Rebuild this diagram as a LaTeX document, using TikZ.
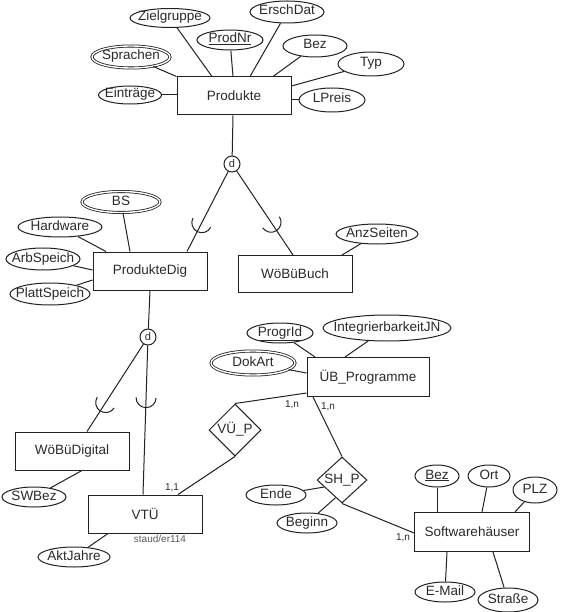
\documentclass[tikz,border=0pt]{standalone}
\usepackage{fontspec}
\setmainfont{Liberation Sans}
\usetikzlibrary{shapes.geometric,decorations.markings,calc}
\definecolor{ink}{HTML}{222222}
\definecolor{txt}{HTML}{2A2A2A}
\newcommand{\mb}[1]{\makebox[0pt][c]{#1}}
\newcommand{\ul}[1]{\underline{#1}}
\begin{document}
\begin{tikzpicture}[x=1pt,y=-1pt,
  every node/.style={text=txt},
  font=\fontsize{13.5}{15}\selectfont,
  every path/.style={draw=ink,line width=1pt},
  entity/.style={draw=ink,rectangle,inner sep=0pt,minimum width=#1,minimum height=38pt},
  entity/.default=114pt,
  attr/.style 2 args={draw=ink,ellipse,inner sep=0pt,text height=9pt,text depth=3pt,minimum width=#1,minimum height=#2},
  mattr/.style 2 args={attr={#1}{#2},double=white,double distance=1.4pt,line width=0.8pt},
  rel/.style 2 args={draw=ink,diamond,inner sep=0pt,text height=9pt,text depth=3pt,minimum width=#1,minimum height=#2},
  dcirc/.style={draw=ink,circle,inner sep=0pt,minimum size=16pt,font=\fontsize{11}{12}\selectfont},
  small/.style={font=\fontsize{10}{11}\selectfont,text=txt,inner sep=0pt},
  subarc/.style={postaction={decorate},decoration={markings,mark=at position #1 with {\draw[line width=1pt] (0pt,10pt) arc[start angle=90,end angle=-90,radius=10pt];}}}
]
\useasboundingbox[fill=white,draw=none] (0,0) rectangle (560,612);
% entities
\node[entity] (prod) at (234,96) {Produkte};
\node[entity] (pdig) at (150,271) {ProdukteDig};
\node[entity,minimum height=37pt] (wbuch) at (295,274) {WöBüBuch};
\node[entity] (wdig) at (72,451) {WöBüDigital};
\node[entity] (vtu) at (145,514) {VTÜ};
\node[entity=122pt,minimum height=39pt] (ubp) at (368,377) {ÜB\_Programme};
\node[entity=115pt,minimum height=39pt] (sw) at (472,532) {Softwarehäuser};
% attributes
\node[attr={80pt}{19pt}] (zg) at (170,18) {\mb{Zielgruppe}};
\node[attr={66pt}{20pt}] (pnr) at (230,40) {\mb{\ul{ProdNr}}};
\node[attr={74pt}{22pt}] (ed) at (287,12) {\mb{ErschDat}};
\node[attr={64pt}{22pt}] (bez) at (315,46) {\mb{Bez}};
\node[attr={66pt}{24pt}] (typ) at (371,64) {\mb{Typ}};
\node[mattr={78pt}{22pt}] (spr) at (131,57) {\mb{Sprachen}};
\node[attr={63pt}{18pt}] (ein) at (130,95) {\mb{Einträge}};
\node[attr={66pt}{24pt}] (lp) at (332,100) {\mb{LPreis}};
\node[mattr={78pt}{21pt}] (bs) at (121,202) {\mb{BS}};
\node[attr={84pt}{20pt}] (hw) at (60,227) {\mb{Hardware}};
\node[attr={74pt}{22pt}] (arb) at (43,259) {\mb{ArbSpeich}};
\node[attr={80pt}{22pt}] (pla) at (50,294) {\mb{PlattSpeich}};
\node[attr={82pt}{20pt}] (anz) at (377,234) {\mb{AnzSeiten}};
\node[attr={64pt}{20pt}] (swb) at (34,497) {\mb{SWBez}};
\node[attr={72pt}{20pt}] (akt) at (74,557) {\mb{AktJahre}};
\node[attr={66pt}{20pt}] (pid) at (280,333) {\mb{\ul{ProgrId}}};
\node[attr={128pt}{26pt}] (int) at (387,328) {\mb{IntegrierbarkeitJN}};
\node[mattr={84pt}{24pt}] (dok) at (253,363) {\mb{DokArt}};
\node[attr={60pt}{20pt}] (ende) at (276,495) {\mb{Ende}};
\node[attr={60pt}{20pt}] (beg) at (307,523) {\mb{Beginn}};
\node[attr={44pt}{22pt}] (sbez) at (437,476) {\mb{\ul{Bez}}};
\node[attr={42pt}{22pt}] (ort) at (489,476) {\mb{Ort}};
\node[attr={44pt}{26pt}] (plz) at (535,490) {\mb{PLZ}};
\node[attr={60pt}{20pt}] (mail) at (445,592) {\mb{E-Mail}};
\node[attr={60pt}{24pt}] (str) at (508,600) {\mb{Straße}};
% relationships and disjointness circles
\node[rel={52pt}{52pt}] (vup) at (235,430) {\mb{VÜ\_P}};
\node[rel={50pt}{46pt}] (shp) at (342,480) {\mb{SH\_P}};
\node[dcirc] (d1) at (232,164) {d};
\node[dcirc] (d2) at (148,337) {d};
% Produkte attributes
\draw (zg) -- (212,0 |- prod.north);
\draw (pnr) -- (233,0 |- prod.north);
\draw (ed) -- (250,0 |- prod.north);
\draw (bez) -- (273,0 |- prod.north);
\draw (typ) -- (prod.east |- 0,86);
\draw (lp) -- (prod.east |- lp);
\draw (ein) -- (prod.west |- ein);
\draw (spr) -- (prod.north west);
% specialization 1
\draw (233,0 |- prod.south) -- (d1);
\draw[subarc=0.64] (d1) -- (187,0 |- pdig.north);
\draw[subarc=0.61] (d1) -- (293,0 |- wbuch.north);
% ProdukteDig attributes
\draw (bs) -- (130,0 |- pdig.north);
\draw (hw) -- (106,0 |- pdig.north);
\draw (arb) -- (pdig.west |- 0,270);
\draw (pla) -- (pdig.west |- 0,280);
\draw (anz) -- (342,0 |- wbuch.north);
% specialization 2
\draw (150,0 |- pdig.south) -- (d2);
\draw[subarc=0.67] (d2) -- (87,0 |- wdig.north);
\draw[subarc=0.35] (d2) -- (143,0 |- vtu.north);
\draw (swb) -- (82,0 |- wdig.south);
\draw (akt) -- (108,0 |- vtu.south);
% VÜ_P
\draw (vup.north) -- (ubp.west |- 0,393);
\draw (vup.south) -- (178,0 |- vtu.north);
\node[small] (c1) at (292,405) {1,n};
\node[small] (c2) at (172,488) {1,1};
% ÜB_Programme attributes
\draw (pid) -- (315,0 |- ubp.north);
\draw (int) -- (345,0 |- ubp.north);
\draw (dok) -- (ubp.west |- 0,373);
% SH_P
\draw (shp.north) -- (313,0 |- ubp.south);
\node[small] (c3) at (328,407) {1,n};
\draw (shp.south) -- (sw.west |- 0,533);
\node[small] (c4) at (403,538) {1,n};
\draw (ende) -- ($(shp.west)!0.3!(shp.south)$);
\draw (beg) -- ($(shp.south)!0.25!(shp.west)$);
% Softwarehäuser attributes
\draw (sbez) -- (437,0 |- sw.north);
\draw (ort) -- (482,0 |- sw.north);
\draw (plz) -- (515,0 |- sw.north);
\draw (mail) -- (447,0 |- sw.south);
\draw (str) -- (493,0 |- sw.south);
% signature
\node[small,text=black!65] (sig) at (160,539) {staud/er114};
\end{tikzpicture}
\end{document}
